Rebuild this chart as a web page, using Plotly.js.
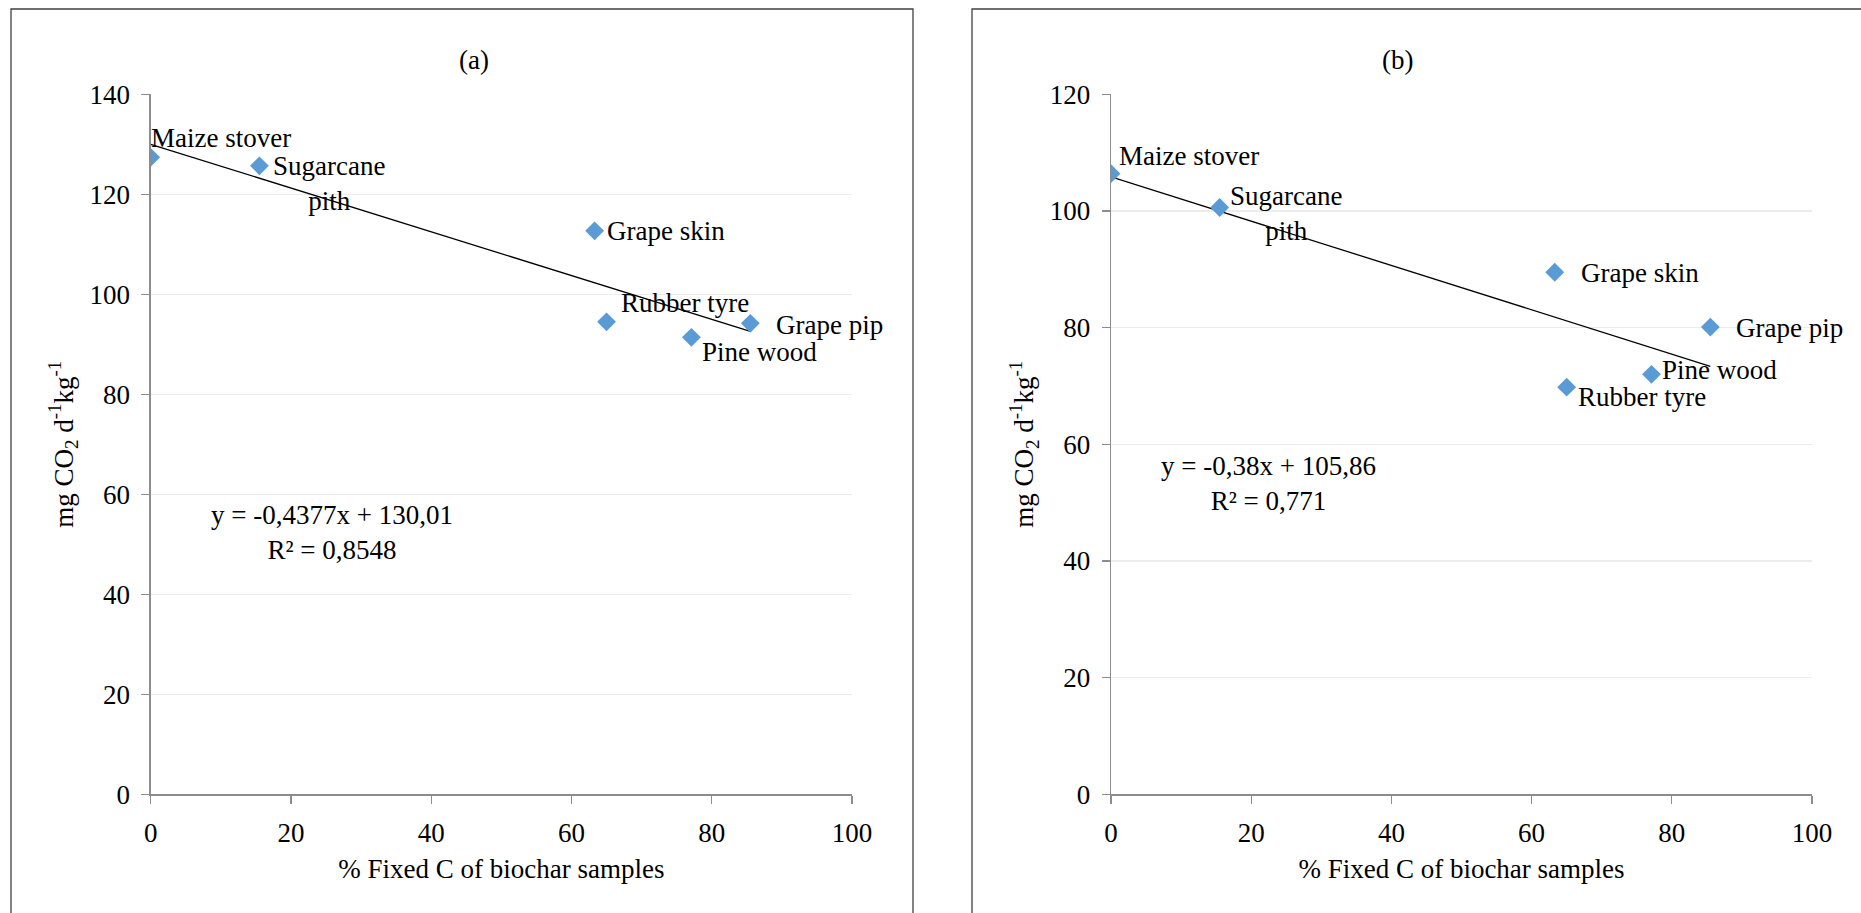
<!DOCTYPE html>
<html>
<head>
<meta charset="utf-8">
<script src="https://cdn.plot.ly/plotly-3.0.1.min.js"></script>
<style>html,body{margin:0;padding:0;background:#fff;}#chart{width:1861px;height:913px;}</style>
</head>
<body>
<div id="chart"></div>
<script>
// ---- data ----
const samples = ["Maize stover", "Sugarcane<br>pith", "Grape skin", "Rubber tyre", "Pine wood", "Grape pip"];
const fixedC = [0, 15.5, 63.3, 65.0, 77.1, 85.5];
const co2A = [127.4, 125.7, 112.7, 94.5, 91.4, 94.2];
const co2B = [106.4, 100.6, 89.5, 69.8, 72.0, 80.1];
const slopeA = -0.4377, interceptA = 130.01, r2A = "0,8548";
const slopeB = -0.38, interceptB = 105.86, r2B = "0,771";
const panelTitles = ["(a)", "(b)"];
const xTicks = [0, 20, 40, 60, 80, 100];
const yTicksA = [0, 20, 40, 60, 80, 100, 120, 140];
const yTicksB = [0, 20, 40, 60, 80, 100, 120];

// ---- label placement (pixel offsets from each point) ----
const offA = [[-2, 19], [12, -18], [10, 0], [12, 19], [9, -15], [24, -2]];
const offB = [[6, 18], [8, -6], [24, -1], [9, -10], [9, 4], [24, -1]];

const FONT = "Liberation Serif, Times New Roman, serif";
const fmt = v => String(v).replace(".", ",");
const xMin = Math.min(...fixedC), xMax = Math.max(...fixedC);

function trend(slope, icpt, xa, ya) {
  return {x: [xMin, xMax], y: [icpt + slope * xMin, icpt + slope * xMax], mode: "lines",
          line: {color: "#000", width: 1.3}, xaxis: xa, yaxis: ya, hoverinfo: "skip", showlegend: false};
}
function pts(ys, xa, ya) {
  return {x: fixedC, y: ys, mode: "markers", type: "scatter", xaxis: xa, yaxis: ya, showlegend: false,
          marker: {symbol: "diamond", size: 14.5, color: "#5B9BD5"}};
}
const traces = [trend(slopeA, interceptA, "x", "y"), pts(co2A, "x", "y"),
                trend(slopeB, interceptB, "x2", "y2"), pts(co2B, "x2", "y2")];

const annotations = [];
function addLabels(ys, offs, xr, yr) {
  samples.forEach((s, i) => annotations.push({x: fixedC[i], y: ys[i], xref: xr, yref: yr, text: s, showarrow: false,
    xanchor: "left", yanchor: "middle", align: "center", xshift: offs[i][0], yshift: offs[i][1],
    font: {family: FONT, size: 27, color: "#000"}}));
}
addLabels(co2A, offA, "x", "y");
addLabels(co2B, offB, "x2", "y2");
annotations.push({x: 25.85, y: 52.3, xref: "x", yref: "y", showarrow: false, align: "center",
  text: "y = " + fmt(slopeA) + "x + " + fmt(interceptA) + "<br>R² = " + r2A, font: {family: FONT, size: 27, color: "#000"}});
annotations.push({x: 22.5, y: 53.2, xref: "x2", yref: "y2", showarrow: false, align: "center",
  text: "y = " + fmt(slopeB) + "x + " + fmt(interceptB) + "<br>R² = " + r2B, font: {family: FONT, size: 27, color: "#000"}});
annotations.push({x: 456.7 / 1861, y: 1 - 43.3 / 913, xref: "paper", yref: "paper", showarrow: false, text: panelTitles[0],
  font: {family: FONT, size: 27, color: "#000"}});
annotations.push({x: 1415 / 1861, y: 1 - 43.3 / 913, xref: "paper", yref: "paper", showarrow: false, text: panelTitles[1],
  font: {family: FONT, size: 27, color: "#000"}});

const xAx = dom => ({domain: dom, range: [0, 100], tickvals: xTicks, showgrid: false, zeroline: false,
  showline: true, linecolor: "#8c8c8c", linewidth: 1.3, ticks: "outside", ticklen: 8, tickcolor: "#8c8c8c", tickwidth: 1.3,
  ticklabelstandoff: 6, tickfont: {family: FONT, size: 27, color: "#000"},
  title: {text: "% Fixed C of biochar samples", font: {family: FONT, size: 27, color: "#000"}, standoff: 12}});
const yAx = (range, ticks, anchor) => ({domain: [0.13, 0.8967], range: range, tickvals: ticks, anchor: anchor,
  showgrid: true, gridcolor: "#ececec", gridwidth: 1.3, zeroline: false,
  showline: true, linecolor: "#8c8c8c", linewidth: 1.3, ticks: "outside", ticklen: 8, tickcolor: "#8c8c8c", tickwidth: 1.3,
  ticklabelstandoff: 6, tickfont: {family: FONT, size: 27, color: "#000"},
  title: {text: "mg CO<sub>2</sub> d<sup>-1</sup>kg<sup>-1</sup>", font: {family: FONT, size: 27, color: "#000"}, standoff: 8}});

const layout = {
  width: 1861, height: 913, autosize: false, margin: {l: 0, r: 0, t: 0, b: 0},
  paper_bgcolor: "#fff", plot_bgcolor: "#fff", showlegend: false,
  xaxis: Object.assign(xAx([150.7 / 1861, 852 / 1861]), {anchor: "y"}),
  yaxis: yAx([0, 140], yTicksA, "x"),
  xaxis2: Object.assign(xAx([1111 / 1861, 1812 / 1861]), {anchor: "y2"}),
  yaxis2: yAx([0, 120], yTicksB, "x2"),
  annotations: annotations,
  shapes: [
    {type: "rect", xref: "paper", yref: "paper", x0: 11 / 1861, x1: 913 / 1861, y0: -0.1, y1: 1 - 9 / 913,
     line: {color: "#404040", width: 1.3}, fillcolor: "rgba(0,0,0,0)", layer: "below"},
    {type: "rect", xref: "paper", yref: "paper", x0: 972 / 1861, x1: 1.1, y0: -0.1, y1: 1 - 9 / 913,
     line: {color: "#404040", width: 1.3}, fillcolor: "rgba(0,0,0,0)", layer: "below"}
  ]
};
Plotly.newPlot("chart", traces, layout, {displayModeBar: false, staticPlot: true});
</script>
</body>
</html>
